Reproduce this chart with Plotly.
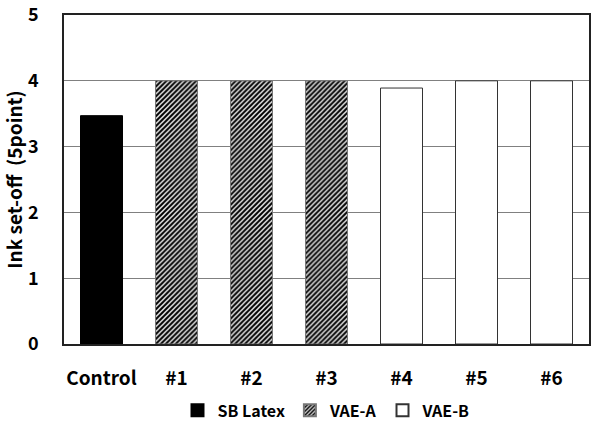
import plotly.graph_objects as go

categories = ["Control", "#1", "#2", "#3", "#4", "#5", "#6"]
sb_cats = ["Control"]
sb_values = [3.47]
vae_a_cats = ["#1", "#2", "#3"]
vae_a_values = [4.0, 4.0, 4.0]
vae_b_cats = ["#4", "#5", "#6"]
vae_b_values = [3.89, 4.0, 4.0]
y_ticks = [0, 1, 2, 3, 4, 5]

FONT = "Noto Sans CJK KR"
W = 0.56

fig = go.Figure()
fig.add_trace(go.Bar(
    name="SB Latex", x=sb_cats, y=sb_values, width=W,
    marker=dict(color="black", line=dict(color="black", width=1)),
))
fig.add_trace(go.Bar(
    name="VAE-A", x=vae_a_cats, y=vae_a_values, width=W,
    marker=dict(color="white", line=dict(color="#777777", width=1),
                pattern=dict(shape="/", fgcolor="#000000", bgcolor="#dddddd",
                             size=3.5, solidity=0.55, fillmode="replace")),
))
fig.add_trace(go.Bar(
    name="VAE-B", x=vae_b_cats, y=vae_b_values, width=W,
    marker=dict(color="white", line=dict(color="#333333", width=1)),
))

fig.update_layout(
    width=601, height=429,
    margin=dict(l=64, r=12, t=15, b=85, autoexpand=False),
    paper_bgcolor="white", plot_bgcolor="white",
    barmode="overlay",
    font=dict(family=FONT, color="black"),
    showlegend=True,
    legend=dict(orientation="h", x=0.5, xanchor="center", y=-0.15, yanchor="top",
                font=dict(family=FONT, size=16, weight="bold"),
                itemwidth=30, tracegroupgap=0, itemsizing="constant"),
    xaxis=dict(
        categoryorder="array", categoryarray=categories,
        tickfont=dict(family=FONT, size=19, weight="bold"),
        showline=True, linecolor="#222222", linewidth=1.5, mirror=True,
        ticks="", ticklabelstandoff=16, automargin=False,
    ),
    yaxis=dict(
        range=[0, 5], tickvals=y_ticks,
        tickfont=dict(family=FONT, size=18, weight="bold"),
        showgrid=True, gridcolor="#808080", gridwidth=1,
        showline=True, linecolor="#222222", linewidth=1.5, mirror=True,
        ticks="", ticklabelstandoff=20, zeroline=False, automargin=False,
        title=dict(text="Ink set-off  (5point)", standoff=5,
                   font=dict(family=FONT, size=19, weight="bold")),
    ),
)

fig.write_html("out.html", config={"displayModeBar": False},
               post_script="document.body.style.margin='0';document.body.style.padding='0';")
